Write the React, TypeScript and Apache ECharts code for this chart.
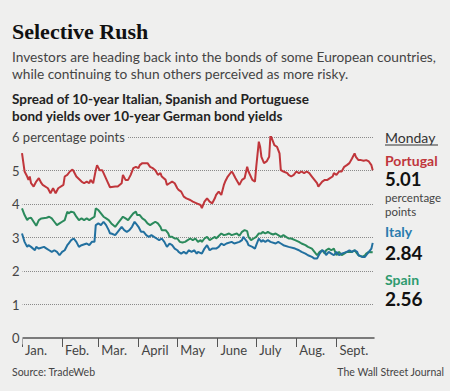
import React, { useEffect, useRef } from "react";
import * as echarts from "echarts";

const monthStarts = [0, 31, 59, 90, 120, 151, 181, 212, 243];
const monthLabels = ["Jan.", "Feb.", "Mar.", "April", "May", "June", "July", "Aug.", "Sept."];
const yTicks = [0, 1, 2, 3, 4, 5, 6];

const portugalDays = [0, 2, 4, 5, 6, 7, 9, 11, 13, 15, 16, 20, 22, 24, 26, 28, 32, 33, 35, 37, 39, 40, 42, 46, 48, 50, 52, 53, 55, 57, 58, 60, 62, 64, 66, 68, 72, 74, 77, 78, 80, 82, 84, 86, 88, 90, 91, 93, 95, 97, 99, 101, 103, 105, 107, 108, 111, 112, 114, 116, 118, 120, 121, 123, 125, 127, 130, 132, 135, 138, 139, 141, 143, 145, 147, 149, 150, 152, 154, 156, 157, 159, 162, 163, 165, 168, 170, 172, 174, 175, 178, 180, 181, 183, 184, 185, 187, 189, 191, 192, 194, 195, 197, 199, 200, 202, 205, 206, 208, 210, 212, 214, 216, 218, 220, 222, 224, 226, 228, 229, 230, 232, 234, 236, 238, 240, 241, 243, 245, 247, 249, 251, 253, 255, 257, 258, 260, 262, 264, 266, 268, 270, 271];
const portugalValues = [5.52, 4.97, 4.82, 4.72, 4.82, 4.62, 4.52, 4.67, 4.77, 4.62, 4.57, 4.47, 4.32, 4.47, 4.32, 4.47, 4.57, 4.82, 4.87, 4.97, 5.03, 4.97, 4.82, 4.67, 4.62, 4.67, 4.62, 4.72, 4.62, 5.01, 5.16, 5.01, 5.01, 4.84, 4.67, 4.5, 4.52, 4.52, 4.62, 4.87, 4.72, 4.72, 4.87, 5.07, 5.11, 5.07, 5.16, 5.22, 5.22, 5.22, 5.11, 5.07, 5.01, 4.87, 4.92, 4.82, 4.72, 4.57, 4.62, 4.67, 4.62, 4.47, 4.42, 4.37, 4.22, 4.17, 4.12, 4.07, 4.02, 3.97, 3.88, 4.07, 4.17, 4.07, 4.02, 4.17, 4.27, 4.37, 4.27, 4.57, 4.67, 4.82, 4.97, 4.92, 4.77, 4.57, 4.72, 4.77, 5.11, 4.97, 4.72, 4.67, 5.11, 5.86, 5.71, 5.41, 5.22, 5.27, 5.41, 6.06, 5.86, 5.76, 5.71, 5.51, 5.01, 4.97, 4.92, 4.87, 4.82, 4.87, 4.97, 4.92, 4.97, 4.92, 4.97, 4.92, 4.82, 4.72, 4.62, 4.52, 4.57, 4.67, 4.72, 4.72, 4.77, 4.82, 4.92, 4.87, 4.97, 4.97, 5.11, 5.16, 5.22, 5.36, 5.51, 5.41, 5.31, 5.31, 5.29, 5.31, 5.27, 5.16, 5.01];

const spainDays = [0, 2, 4, 5, 7, 9, 11, 13, 15, 19, 21, 23, 25, 27, 29, 31, 33, 35, 36, 38, 40, 42, 44, 46, 48, 50, 52, 54, 56, 57, 59, 61, 63, 65, 67, 69, 72, 74, 77, 78, 80, 82, 84, 86, 88, 89, 91, 93, 95, 97, 99, 101, 103, 105, 107, 108, 111, 113, 114, 116, 118, 120, 122, 124, 126, 128, 130, 132, 134, 136, 138, 139, 141, 143, 145, 147, 149, 150, 154, 156, 158, 160, 162, 166, 168, 170, 172, 174, 175, 177, 179, 181, 183, 185, 186, 188, 190, 192, 194, 196, 198, 200, 202, 204, 206, 208, 211, 214, 216, 219, 221, 224, 226, 228, 230, 232, 234, 235, 237, 239, 241, 243, 245, 247, 249, 251, 255, 257, 259, 260, 263, 265, 266, 268, 271];
const spainValues = [3.87, 3.67, 3.52, 3.57, 3.59, 3.47, 3.35, 3.52, 3.57, 3.59, 3.62, 3.57, 3.47, 3.37, 3.42, 3.47, 3.52, 3.77, 3.72, 3.77, 3.75, 3.62, 3.52, 3.57, 3.52, 3.57, 3.52, 3.57, 3.62, 3.87, 3.82, 3.72, 3.62, 3.57, 3.52, 3.42, 3.32, 3.42, 3.57, 3.62, 3.57, 3.52, 3.62, 3.72, 3.77, 3.67, 3.67, 3.57, 3.52, 3.42, 3.37, 3.42, 3.47, 3.42, 3.32, 3.22, 3.22, 3.12, 3.02, 3.02, 2.97, 2.97, 2.87, 2.85, 2.87, 2.92, 2.97, 2.92, 2.97, 2.87, 2.92, 2.87, 2.97, 3.02, 2.92, 2.97, 3.02, 2.97, 3.12, 3.07, 3.09, 3.12, 3.07, 3.12, 3.05, 3.17, 3.22, 3.19, 3.02, 2.92, 2.97, 3.02, 3.12, 3.12, 3.17, 3.12, 3.17, 3.12, 3.09, 3.12, 3.07, 3.02, 3.07, 3.02, 2.97, 2.97, 2.92, 2.87, 2.82, 2.77, 2.72, 2.67, 2.57, 2.47, 2.57, 2.62, 2.52, 2.62, 2.67, 2.62, 2.67, 2.47, 2.57, 2.47, 2.52, 2.57, 2.57, 2.62, 2.52, 2.47, 2.42, 2.47, 2.52, 2.57, 2.56];

const italyDays = [0, 2, 4, 5, 7, 10, 11, 13, 17, 19, 21, 23, 25, 27, 29, 31, 33, 35, 36, 38, 40, 42, 44, 46, 50, 52, 54, 56, 57, 59, 61, 63, 65, 67, 68, 69, 72, 74, 77, 79, 81, 83, 85, 87, 89, 90, 92, 94, 96, 98, 100, 102, 104, 106, 108, 110, 112, 114, 116, 118, 120, 121, 123, 125, 127, 129, 131, 133, 135, 136, 139, 141, 143, 145, 147, 150, 152, 154, 156, 158, 162, 164, 168, 170, 171, 172, 174, 175, 178, 180, 181, 183, 185, 186, 188, 190, 192, 196, 198, 200, 202, 206, 211, 214, 216, 219, 221, 224, 226, 228, 230, 232, 234, 235, 237, 239, 241, 243, 245, 247, 251, 253, 255, 257, 259, 260, 263, 265, 266, 268, 270, 271];
const italyValues = [3.12, 2.87, 2.72, 2.77, 2.72, 2.62, 2.72, 2.67, 2.72, 2.67, 2.62, 2.57, 2.62, 2.57, 2.47, 2.57, 2.62, 2.77, 2.82, 2.92, 2.97, 2.87, 2.72, 2.77, 2.82, 2.77, 2.87, 2.87, 3.37, 3.42, 3.37, 3.47, 3.37, 3.22, 3.12, 3.12, 3.07, 3.17, 3.32, 3.22, 3.17, 3.22, 3.32, 3.47, 3.37, 3.32, 3.17, 3.17, 3.07, 3.02, 3.07, 3.02, 2.97, 2.92, 2.97, 2.87, 2.72, 2.82, 2.77, 2.67, 2.62, 2.57, 2.52, 2.57, 2.52, 2.62, 2.57, 2.62, 2.52, 2.57, 2.52, 2.67, 2.77, 2.62, 2.67, 2.67, 2.72, 2.82, 2.77, 2.82, 2.87, 2.82, 2.87, 2.92, 3.02, 2.97, 2.87, 2.77, 2.72, 2.67, 2.77, 2.97, 2.87, 2.92, 2.87, 2.92, 2.87, 2.82, 2.87, 2.82, 2.77, 2.72, 2.67, 2.62, 2.57, 2.52, 2.47, 2.42, 2.37, 2.37, 2.52, 2.62, 2.57, 2.47, 2.57, 2.52, 2.47, 2.57, 2.47, 2.52, 2.57, 2.62, 2.57, 2.62, 2.57, 2.47, 2.42, 2.42, 2.47, 2.57, 2.67, 2.84];

const BG = "#efefee";
const RED = "#c0363b";
const BLUE = "#22709f";
const GREEN = "#2b8a5c";
const SANS = "Lato, 'Noto Sans', sans-serif";

function pairs(days: number[], values: number[]) {
  return days.map((d, i) => [d, values[i]]);
}

export default function App() {
  const ref = useRef<HTMLDivElement>(null);
  useEffect(() => {
    document.body.style.margin = "0";
    document.body.style.background = BG;
    if (!ref.current) return;
    const chart = echarts.init(ref.current, null, { renderer: "svg" });
    const txt = (text: string, x: number, y: number, font: string, fill: string, align = "left") => ({
      type: "text",
      style: { text, x, y, font, fill, textAlign: align, textVerticalAlign: "middle" },
    });
    chart.setOption({
      animation: false,
      backgroundColor: BG,
      grid: { left: 22, right: 76, top: 137, bottom: 53 },
      xAxis: {
        type: "value",
        min: 0,
        max: 272,
        axisLine: { show: true, lineStyle: { color: "#555", width: 1.5 } },
        axisTick: { show: true, customValues: monthStarts, length: 9, lineStyle: { color: "#555", width: 1 } },
        axisLabel: {
          customValues: monthStarts,
          formatter: (v: number) => monthLabels[monthStarts.indexOf(v)] ?? "",
          align: "left",
          padding: [0, 0, 0, 3],
          margin: 5,
          color: "#444",
          fontFamily: SANS,
          fontSize: 13,
        },
        splitLine: { show: false },
      },
      yAxis: {
        type: "value",
        min: 0,
        max: 6,
        interval: 1,
        axisLine: { show: false },
        axisTick: { show: false },
        axisLabel: {
          align: "left",
          margin: 10,
          color: "#444",
          fontFamily: SANS,
          fontSize: 13,
          formatter: (v: number) => (v === 6 ? "{b|6 percentage points}" : "{b|" + v + "}"),
          rich: { b: { backgroundColor: BG, padding: [0, 3, 0, 0], color: "#444", fontFamily: SANS, fontSize: 13 } },
        },
        splitLine: { show: true, showMinLine: false, lineStyle: { color: "#8a8a8a", type: "dotted", width: 1 } },
      },
      series: [
        { name: "Portugal", type: "line", data: pairs(portugalDays, portugalValues), showSymbol: false, lineStyle: { color: RED, width: 2 }, itemStyle: { color: RED } },
        { name: "Spain", type: "line", data: pairs(spainDays, spainValues), showSymbol: false, lineStyle: { color: GREEN, width: 2 }, itemStyle: { color: GREEN } },
        { name: "Italy", type: "line", data: pairs(italyDays, italyValues), showSymbol: false, lineStyle: { color: BLUE, width: 2 }, itemStyle: { color: BLUE } },
      ],
      graphic: [
        txt("Selective Rush", 12, 31, "bold 22px 'Liberation Serif', serif", "#111"),
        txt("Investors are heading back into the bonds of some European countries,", 12, 56, "13.7px " + SANS, "#444"),
        txt("while continuing to shun others perceived as more risky.", 12, 73, "13.7px " + SANS, "#444"),
        txt("Spread of 10-year Italian, Spanish and Portuguese", 12, 99, "bold 13.5px " + SANS, "#222"),
        txt("bond yields over 10-year German bond yields", 12, 116, "bold 13.5px " + SANS, "#222"),
        txt("Monday", 385, 137, "14px " + SANS, "#333"),
        { type: "line", shape: { x1: 385, y1: 145, x2: 438, y2: 145 }, style: { stroke: "#333", lineWidth: 1 } },
        txt("Portugal", 385, 160, "bold 14px " + SANS, RED),
        txt("5.01", 385, 178.5, "bold 18.5px " + SANS, "#111"),
        txt("percentage", 385, 197, "11.5px " + SANS, "#444"),
        txt("points", 385, 211.5, "11.5px " + SANS, "#444"),
        txt("Italy", 385, 231, "bold 14px " + SANS, "#2a7cae"),
        txt("2.84", 385, 252, "bold 19px " + SANS, "#111"),
        txt("Spain", 385, 279, "bold 14px " + SANS, "#2e9a6e"),
        txt("2.56", 385, 298, "bold 19px " + SANS, "#111"),
        txt("Source: TradeWeb", 12, 372, "10.5px " + SANS, "#444"),
        txt("The Wall Street Journal", 444, 372, "10.5px " + SANS, "#444", "right"),
      ],
    });
    return () => chart.dispose();
  }, []);
  return <div ref={ref} style={{ position: "fixed", left: 0, top: 0, width: 450, height: 391 }} />;
}
